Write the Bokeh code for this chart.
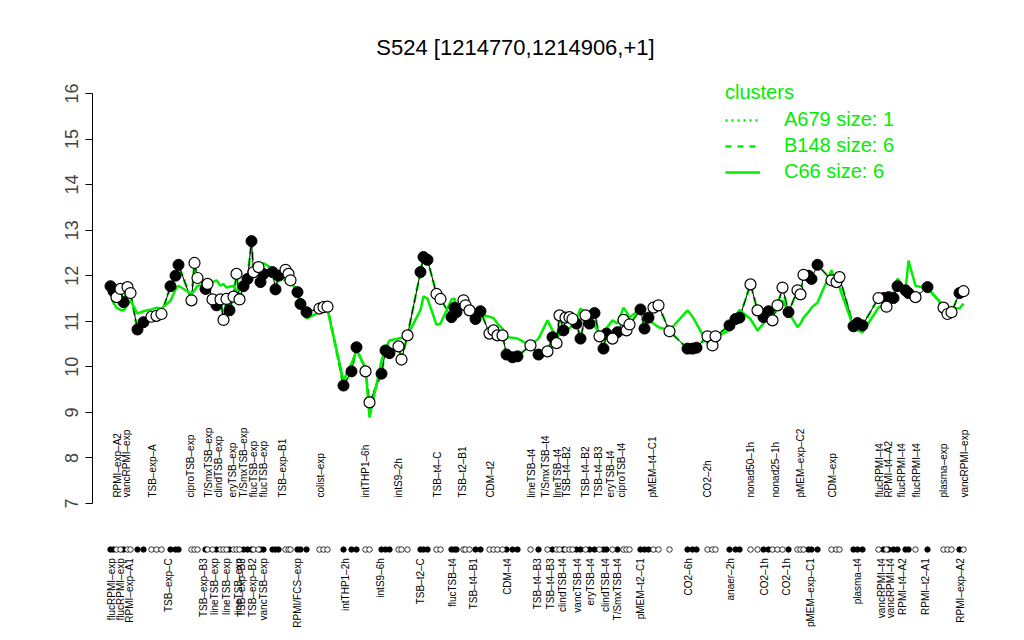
import math
from bokeh.plotting import figure
from bokeh.models import Range1d, FixedTicker, Legend, LegendItem, Label
from bokeh.core.properties import value
from bokeh.embed import file_html
from bokeh.resources import INLINE

# ---------------- data ----------------
pos = [110, 113, 116, 120, 123, 127, 130, 137, 143, 151, 156, 161, 170, 175, 178, 191, 194, 197,
       205, 207, 212, 216, 220, 223, 226, 229, 233, 236, 239, 243, 247, 251, 253, 258, 260, 263,
       272, 275, 278, 285, 288, 290, 297, 300, 306, 319, 323, 327, 343, 351, 356, 365, 369, 381,
       385, 389, 398, 401, 407, 420, 423, 427, 436, 440, 451, 454, 456, 463, 465, 469, 475, 480,
       489, 493, 497, 502, 506, 512, 517, 530, 538, 547, 552, 556, 559, 563, 565, 569, 572, 576,
       580, 585, 589, 594, 599, 603, 606, 612, 617, 623, 626, 629, 640, 644, 648, 653, 658, 669,
       687, 692, 696, 707, 712, 715, 729, 735, 739, 750, 757, 763, 768, 772, 777, 782, 788, 797,
       800, 803, 808, 811, 817, 831, 836, 839, 853, 857, 862, 878, 883, 886, 888, 893, 897, 905,
       908, 915, 927, 943, 947, 951, 959, 963]

expr = [11.77, 11.66, 11.53, 11.71, 11.42, 11.75, 11.62, 10.82, 10.98, 11.10, 11.12, 11.16,
        11.77, 12.00, 12.24, 11.46, 12.28, 11.95, 11.71, 11.82, 11.48, 11.35, 11.48, 11.03,
        11.49, 11.24, 11.54, 12.04, 11.48, 11.77, 11.93, 12.76, 12.08, 12.19, 11.86, 12.04,
        12.08, 11.70, 12.00, 12.13, 12.04, 11.90, 11.64, 11.38, 11.20, 11.28, 11.31, 11.32,
        9.59, 9.90, 10.43, 9.90, 9.22, 9.85, 10.36, 10.30, 10.45, 10.16, 10.69, 12.08,
        12.41, 12.35, 11.60, 11.49, 11.09, 11.30, 11.20, 11.46, 11.35, 11.24, 11.05, 11.22,
        10.73, 10.80, 10.69, 10.69, 10.27, 10.21, 10.23, 10.47, 10.27, 10.34, 10.65, 10.52,
        11.13, 10.80, 11.08, 11.09, 11.05, 10.95, 10.62, 11.13, 10.95, 11.18, 10.67, 10.40,
        10.73, 10.62, 10.76, 11.03, 10.80, 10.93, 11.26, 10.84, 11.08, 11.30, 11.35, 10.78,
        10.40, 10.40, 10.42, 10.67, 10.47, 10.67, 10.91, 11.05, 11.08, 11.81, 11.24, 11.09,
        11.22, 11.02, 11.35, 11.74, 11.20, 11.68, 11.59, 12.02, 12.00, 11.93, 12.24, 11.90,
        11.86, 11.97, 10.89, 10.96, 10.91, 11.51, 11.51, 11.32, 11.53, 11.51, 11.77, 11.68,
        11.62, 11.53, 11.75, 11.30, 11.16, 11.20, 11.62, 11.66]

filled = [1, 1, 0, 0, 1, 0, 0, 1, 1, 0, 0, 0, 1, 1, 1, 0, 0, 0,
          1, 0, 0, 1, 0, 0, 0, 1, 0, 0, 0, 1, 1, 1, 0, 0, 1, 1, 1, 1, 1, 0, 0, 0,
          1, 1, 1, 0, 0, 0,
          1, 1, 1, 0, 0, 1, 1, 1, 0, 0, 0,
          1, 1, 1, 0, 0,
          1, 1, 1, 0, 0, 0, 1, 1,
          0, 0, 0, 0, 1, 1, 1,
          0, 1, 0, 1, 0, 0, 1, 0, 0, 0, 1, 1, 0, 1, 1, 0, 1, 1, 0, 1, 0, 0, 0,
          1, 1, 1, 0, 0, 0,
          1, 1, 1, 0, 0, 0,
          1, 1, 1,
          0, 0, 1, 1, 0, 0, 0, 1,
          0, 0, 0, 1, 1, 1,
          0, 0, 0,
          1, 1, 1,
          0, 1, 0, 1, 1, 1, 1, 1, 0,
          1,
          0, 0, 0,
          1, 0]

c66 = [11.65, 11.40, 11.30, 11.25, 11.24, 11.35, 11.46, 11.17, 11.22, 11.26, 11.30, 11.28,
       11.45, 11.70, 11.78, 11.60, 11.68, 11.78, 11.80, 11.82, 11.86, 11.90, 11.78, 11.82,
       11.74, 11.76, 11.78, 11.67, 11.72, 11.80, 11.85, 12.02, 12.10, 12.16, 12.18, 12.28,
       12.15, 12.05, 11.96, 11.90, 11.87, 11.85, 11.67, 11.40, 11.06, 11.20, 11.28, 11.25,
       9.70, 10.07, 10.36, 9.99, 8.89, 10.14, 10.40, 10.58, 10.62, 10.64, 10.69, 11.25,
       11.55, 11.50, 10.92, 10.95, 11.48, 11.50, 11.35, 11.30, 11.28, 11.22, 11.20, 11.15,
       11.10, 11.07, 10.95, 10.84, 10.65, 10.64, 10.62, 10.47, 10.62, 11.02, 10.80, 10.65,
       10.70, 10.73, 10.78, 10.85, 10.90, 11.05, 11.28, 11.20, 11.08, 10.90, 10.73, 10.69,
       10.85, 11.02, 10.95, 11.30, 11.20, 11.08, 11.28, 11.15, 11.02, 10.95, 10.87, 10.80,
       11.24, 11.10, 10.95, 10.51, 10.58, 10.65, 10.80, 11.10, 11.25, 11.05, 10.80, 10.95,
       11.08, 11.18, 11.30, 11.46, 11.20, 10.87, 10.95, 11.08, 11.20, 11.30, 11.41, 12.12,
       11.80, 11.74, 10.87, 10.80, 10.76, 11.30, 11.36, 11.41, 11.45, 11.61, 11.94, 11.68,
       12.33, 11.78, 11.72, 11.35, 11.24, 11.30, 11.28, 11.39]

# cluster A679 has a single member (this profile); B148 follows it closely
a679 = expr
b148 = expr

top_pos = [117, 126, 152, 190, 208, 218, 232, 243, 253, 263, 282, 320, 365, 398, 437, 462, 490,
           531, 545, 557, 566, 585, 598, 610, 621, 652, 707, 750, 775, 800, 832, 879, 888, 901,
           916, 943, 964]
top_lab = ["RPMI\u2013exp\u2013A2", "vancRPMI\u2013exp", "TSB\u2013exp\u2013A", "ciproTSB\u2013exp",
           "T/SmxTSB\u2013exp", "clindTSB\u2013exp", "eryTSB\u2013exp", "T/SmxTSB\u2013exp",
           "flucTSB\u2013exp", "flucTSB\u2013exp", "TSB\u2013exp\u2013B1", "colist\u2013exp",
           "intTHP1\u20136h", "intS9\u20132h", "TSB\u2013t4\u2013C", "TSB\u2013t2\u2013B1", "CDM\u2013t2",
           "lineTSB\u2013t4", "T/SmxTSB\u2013t4", "lineTSB\u2013t4", "TSB\u2013t4\u2013B2",
           "TSB\u2013t4\u2013B2", "TSB\u2013t4\u2013B3", "eryTSB\u2013t4", "ciproTSB\u2013t4",
           "pMEM\u2013t4\u2013C1", "CO2\u20132h", "nonad50\u20131h", "nonad25\u20131h",
           "pMEM\u2013exp\u2013C2", "CDM\u2013exp", "flucRPMI\u2013t4", "RPMI\u2013t4\u2013A2",
           "flucRPMI\u2013t4", "flucRPMI\u2013t4", "plasma\u2013exp", "vancRPMI\u2013exp"]

bot_pos = [111, 120, 129, 168, 203, 214, 226, 238, 241, 252, 263, 297, 345, 380, 420, 452, 473,
           507, 537, 550, 562, 577, 590, 605, 617, 640, 688, 730, 764, 786, 810, 857, 881, 890,
           902, 925, 960]
bot_lab = ["flucRPMI\u2013exp", "flucRPMI\u2013exp", "RPMI\u2013exp\u2013A1", "TSB\u2013exp\u2013C",
           "TSB\u2013exp\u2013B3", "lineTSB\u2013exp", "lineTSB\u2013exp", "lineTSB\u2013exp",
           "TSB\u2013exp\u2013B3", "TSB\u2013exp\u2013B2", "vancTSB\u2013exp", "RPMI/FCS\u2013exp",
           "intTHP1\u20132h", "intS9\u20136h", "TSB\u2013t2\u2013C", "flucTSB\u2013t4", "TSB\u2013t4\u2013B1",
           "CDM\u2013t4", "TSB\u2013t4\u2013B3", "TSB\u2013t4\u2013B3", "clindTSB\u2013t4",
           "vancTSB\u2013t4", "eryTSB\u2013t4", "clindTSB\u2013t4", "T/SmxTSB\u2013t4",
           "pMEM\u2013t2\u2013C1", "CO2\u20136h", "anaer\u20132h", "CO2\u20131h", "CO2\u20131h",
           "pMEM\u2013exp\u2013C1", "plasma\u2013t4", "vancRPMI\u2013t4", "vancRPMI\u2013t4",
           "RPMI\u2013t4\u2013A2", "RPMI\u2013t2\u2013A1", "RPMI\u2013exp\u2013A2"]

title_text = "S524 [1214770,1214906,+1]"
legend_title = "clusters"
cluster_names = ["A679 size: 1", "B148 size: 6", "C66 size: 6"]

# ---------------- style ----------------
GREEN = "#00EE00"
FONT = "Liberation Sans"

Y_BOTTOM, Y_TOP = 4.213, 17.602

p = figure(width=1008, height=632, x_range=Range1d(92, 1000), y_range=Range1d(Y_BOTTOM, Y_TOP),
           output_backend="svg", toolbar_location=None, x_axis_location=None,
           min_border_left=92, min_border_right=8, min_border_top=20, min_border_bottom=2)
p.xgrid.visible = False
p.ygrid.visible = False
p.outline_line_color = None
p.background_fill_color = "white"

ax = p.yaxis[0]
ax.ticker = FixedTicker(ticks=list(range(7, 17)))
ax.bounds = (7, 16)
ax.major_tick_out = 7
ax.major_tick_in = 0
ax.minor_tick_line_color = None
ax.major_label_text_font = FONT
ax.major_label_text_font_size = "18px"
ax.major_label_standoff = 7
ax.axis_line_color = "black"
ax.major_tick_line_color = "black"
ax.major_label_orientation = "vertical"

# cluster lines
r_a = p.line(pos, a679, line_color=GREEN, line_width=2.5, line_dash="dotted")
r_b = p.line(pos, b148, line_color=GREEN, line_width=2.5, line_dash="dashed")
# profile line
p.line(pos, expr, line_color="black", line_width=1)
r_c = p.line(pos, c66, line_color=GREEN, line_width=2.5)

# points
fx = [x for x, f in zip(pos, filled) if f]
fy = [y for y, f in zip(expr, filled) if f]
ox = [x for x, f in zip(pos, filled) if not f]
oy = [y for y, f in zip(expr, filled) if not f]
p.scatter(fx, fy, size=11, fill_color="black", line_color="black", line_width=1)
p.scatter(ox, oy, size=11, fill_color="white", line_color="black", line_width=1.2)

# rug of sample positions
RUG_Y = 5.99
p.scatter(fx, [RUG_Y] * len(fx), size=5.5, fill_color="black", line_color="black", line_width=0.8)
p.scatter(ox, [RUG_Y] * len(ox), size=5.5, fill_color="white", line_color="black", line_width=0.8)

# sample labels
p.text(x=top_pos, y=[7.13] * len(top_pos), text=top_lab, angle=math.pi / 2,
       text_align="left", text_baseline="middle", text_font=value(FONT),
       text_font_size="10px", text_color="black")
p.text(x=bot_pos, y=[5.80] * len(bot_pos), text=bot_lab, angle=math.pi / 2,
       text_align="right", text_baseline="middle", text_font=value(FONT),
       text_font_size="10px", text_color="black")

# title
p.add_layout(Label(x=515, y=17.0, text=title_text, text_align="center", text_baseline="middle",
                   text_font=FONT, text_font_size="22px", text_color="black"))

legend = Legend(items=[LegendItem(label=cluster_names[0], renderers=[r_a]),
                       LegendItem(label=cluster_names[1], renderers=[r_b]),
                       LegendItem(label=cluster_names[2], renderers=[r_c])],
                location=(633, 447), title=legend_title)
legend.title_text_color = GREEN
legend.title_text_font = FONT
legend.title_text_font_size = "20px"
legend.title_text_font_style = "normal"
legend.title_standoff = 4
legend.label_text_color = GREEN
legend.label_text_font = FONT
legend.label_text_font_size = "20px"
legend.label_standoff = 24
legend.glyph_width = 35
legend.glyph_height = 20
legend.label_height = 20
legend.spacing = 3
legend.padding = 0
legend.margin = 0
legend.border_line_color = None
legend.background_fill_alpha = 0
p.add_layout(legend)

open("out.html", "w").write(file_html(p, INLINE))
